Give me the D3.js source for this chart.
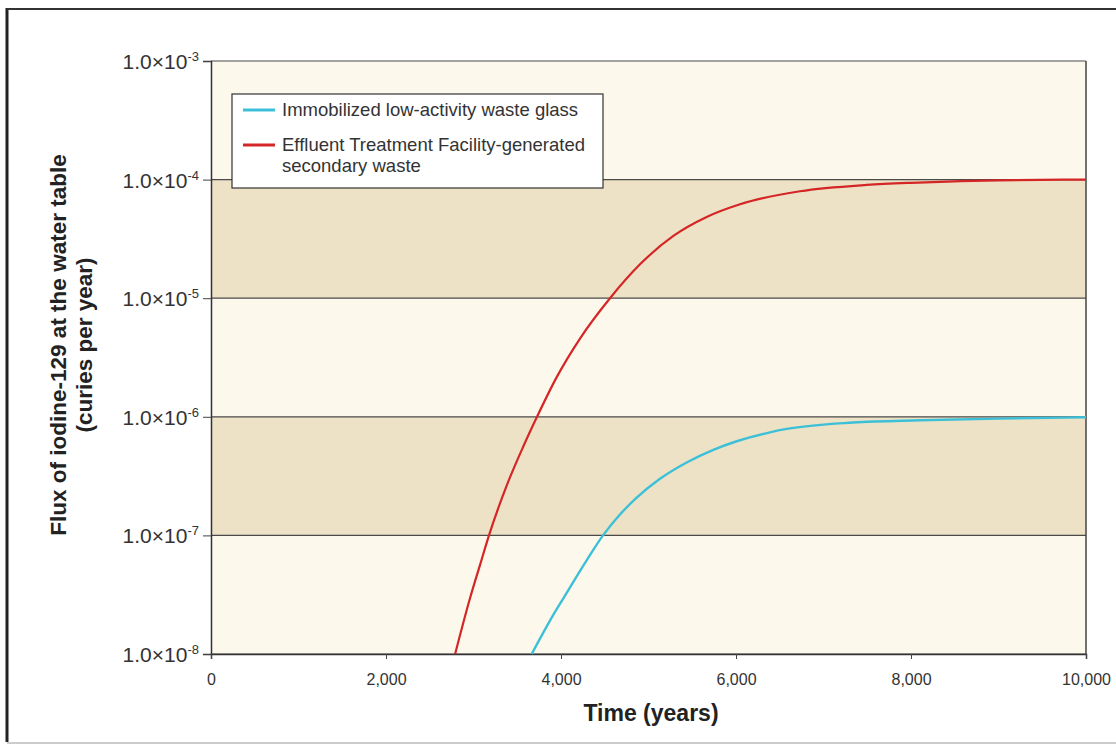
<!DOCTYPE html>
<html>
<head>
<meta charset="utf-8">
<script src="https://cdn.jsdelivr.net/npm/d3@7"></script>
<style>
  body { margin: 0; background: #fff; }
  text { font-family: 'Liberation Sans', Arial, sans-serif; }
</style>
</head>
<body>
<div id="chart"></div>
<script>
// reference series
const glassYears = [3665, 3912, 4027, 4293, 4480, 4674, 4865, 5131, 5436, 5741, 6008, 6389, 6579, 7341, 8103, 9000, 10000];
const glassFlux = [1e-8, 2.14e-8, 2.95e-8, 6.17e-8, 1e-7, 1.5e-7, 2.08e-7, 3.0e-7, 4.12e-7, 5.27e-7, 6.22e-7, 7.4e-7, 7.9e-7, 8.95e-7, 9.35e-7, 9.66e-7, 9.9e-7];
const etfYears = [2790, 2960, 3074, 3177, 3379, 3569, 3726, 3951, 4217, 4560, 4903, 5284, 5665, 6046, 6731, 7494, 8000, 8500, 9000, 10000];
const etfFlux = [1e-8, 2.95e-8, 5.62e-8, 1e-7, 2.63e-7, 5.62e-7, 1e-6, 2.16e-6, 4.57e-6, 1e-5, 1.93e-5, 3.35e-5, 4.84e-5, 6.19e-5, 7.98e-5, 9.02e-5, 9.4e-5, 9.66e-5, 9.86e-5, 1e-4];
const yTicks = [1e-3, 1e-4, 1e-5, 1e-6, 1e-7, 1e-8];
const yExponents = ['-3', '-4', '-5', '-6', '-7', '-8'];
const xTicks = [0, 2000, 4000, 6000, 8000, 10000];
const seriesNames = ['Immobilized low-activity waste glass', 'Effluent Treatment Facility-generated', 'secondary waste'];

const width = 1116, height = 746;
const margin = { top: 61, right: 30, bottom: 92, left: 211 };

const svg = d3.select('#chart').append('svg')
  .attr('width', width).attr('height', height);

// outer frame
svg.append('line').attr('x1', 7).attr('x2', 7).attr('y1', 8).attr('y2', 742)
  .attr('stroke', '#222').attr('stroke-width', 3);
svg.append('line').attr('x1', 7).attr('x2', width).attr('y1', 9).attr('y2', 9)
  .attr('stroke', '#333').attr('stroke-width', 2);
svg.append('line').attr('x1', 7).attr('x2', width).attr('y1', 743).attr('y2', 743)
  .attr('stroke', '#ccc').attr('stroke-width', 2);

const x = d3.scaleLinear().domain([0, 10000]).range([margin.left, width - margin.right]);
const y = d3.scaleLog().domain([1e-8, 1e-3]).range([height - margin.bottom, margin.top]);

// bands
const bands = d3.pairs(yTicks);
svg.append('g').selectAll('rect')
  .data(bands)
  .join('rect')
  .attr('x', x(0))
  .attr('width', x(10000) - x(0))
  .attr('y', (d) => y(d[0]))
  .attr('height', (d) => y(d[1]) - y(d[0]))
  .attr('fill', (d, i) => (i % 2 ? '#eee2c6' : '#fdf8ec'));

// gridlines
svg.append('g').selectAll('line')
  .data(yTicks)
  .join('line')
  .attr('x1', x(0)).attr('x2', x(10000))
  .attr('y1', (d) => y(d)).attr('y2', (d) => y(d))
  .attr('stroke', '#4a4a4a').attr('stroke-width', 1.2);

// y axis
const yAxis = svg.append('g')
  .attr('transform', `translate(${margin.left},0)`)
  .call(d3.axisLeft(y).tickValues(yTicks).tickSize(8).tickFormat(''));
yAxis.select('.domain').attr('stroke', '#333').attr('stroke-width', 1.5);
yAxis.selectAll('.tick line').attr('stroke', '#444');

const yLab = svg.append('g').selectAll('text')
  .data(yTicks)
  .join('text')
  .attr('x', 199)
  .attr('y', (d) => y(d) + 8)
  .attr('text-anchor', 'end')
  .attr('fill', '#333')
  .attr('font-size', 21);
yLab.append('tspan').text('1.0×10');
yLab.append('tspan')
  .attr('font-size', 13)
  .attr('dy', -8)
  .text((d, i) => yExponents[i]);

// x axis
const xAxis = svg.append('g')
  .attr('transform', `translate(0,${height - margin.bottom})`)
  .call(d3.axisBottom(x).tickValues(xTicks).tickSize(5).tickPadding(15).tickFormat(d3.format(',')));
xAxis.select('.domain').attr('stroke', '#333').attr('stroke-width', 1.5);
xAxis.selectAll('.tick line').attr('stroke', '#444');
xAxis.selectAll('.tick text')
  .attr('font-size', 16)
  .attr('fill', '#333')
  .attr('font-family', "'Liberation Sans', Arial, sans-serif");

// right border of plot
svg.append('line').attr('x1', x(10000)).attr('x2', x(10000))
  .attr('y1', y(1e-3)).attr('y2', y(1e-8)).attr('stroke', '#444').attr('stroke-width', 1.5);

// series
const line = d3.line()
  .x((d) => x(d[0]))
  .y((d) => y(d[1]))
  .curve(d3.curveMonotoneX);

svg.append('path')
  .datum(d3.zip(etfYears, etfFlux))
  .attr('fill', 'none')
  .attr('stroke', '#d42626')
  .attr('stroke-width', 2.2)
  .attr('d', line);

svg.append('path')
  .datum(d3.zip(glassYears, glassFlux))
  .attr('fill', 'none')
  .attr('stroke', '#3cc0d8')
  .attr('stroke-width', 2.4)
  .attr('d', line);

// legend
const legend = svg.append('g');
legend.append('rect')
  .attr('x', 232).attr('y', 94).attr('width', 371).attr('height', 94)
  .attr('fill', '#fff').attr('stroke', '#333').attr('stroke-width', 1.2);
legend.append('line').attr('x1', 243).attr('x2', 275).attr('y1', 110).attr('y2', 110)
  .attr('stroke', '#3cc0d8').attr('stroke-width', 3);
legend.append('line').attr('x1', 243).attr('x2', 275).attr('y1', 145).attr('y2', 145)
  .attr('stroke', '#d42626').attr('stroke-width', 3);
legend.selectAll('text.lg')
  .data(seriesNames)
  .join('text')
  .attr('class', 'lg')
  .attr('x', 282)
  .attr('y', (d, i) => [116, 151, 172][i])
  .attr('font-size', 18.5)
  .attr('fill', '#333')
  .text((d) => d);

// axis titles
svg.append('text')
  .attr('x', 651).attr('y', 721)
  .attr('text-anchor', 'middle')
  .attr('font-size', 23).attr('font-weight', 'bold').attr('fill', '#222')
  .text('Time (years)');

const yTitle = svg.append('text')
  .attr('transform', 'translate(0,345) rotate(-90)')
  .attr('text-anchor', 'middle')
  .attr('font-size', 22.5).attr('font-weight', 'bold').attr('fill', '#222');
yTitle.append('tspan').attr('x', 0).attr('y', 66).text('Flux of iodine-129 at the water table');
yTitle.append('tspan').attr('x', 0).attr('y', 92).text('(curies per year)');
</script>
</body>
</html>
